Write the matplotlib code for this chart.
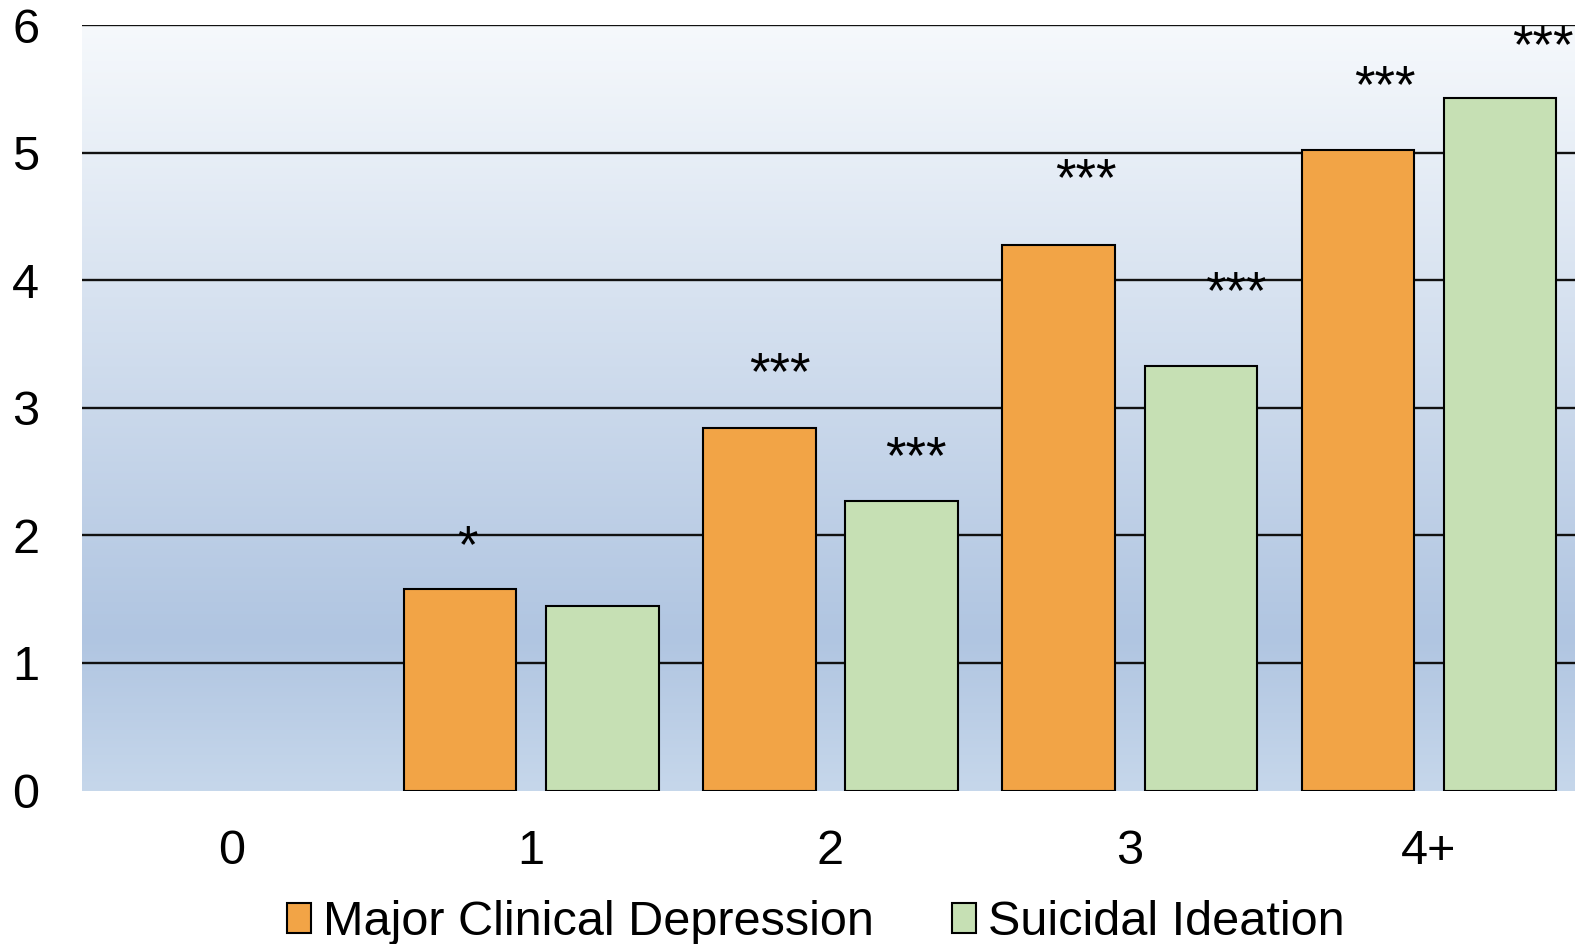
import numpy as np
import matplotlib
matplotlib.use('Agg')
import matplotlib.pyplot as plt
from matplotlib.colors import LinearSegmentedColormap
from matplotlib.patches import Patch

plt.rcParams['font.family'] = ['Liberation Sans', 'DejaVu Sans']

# number of events (x categories); group "0" is the reference with no bars
categories = ['0', '1', '2', '3', '4+']
depression = [None, 1.58, 2.84, 4.28, 5.02]
ideation = [None, 1.45, 2.27, 3.33, 5.43]
depression_stars = [None, '*', '***', '***', '***']
ideation_stars = [None, None, '***', '***', '***']

# star label placement (x offset from category centre, y in data units)
dep_star_dx = [0, -0.215, -0.168, -0.148, -0.148]
dep_star_y = [0, 1.90, 3.26, 4.78, 5.51]
ide_star_dx = [0, 0, 0.285, 0.356, 0.379]
ide_star_y = [0, 0, 2.60, 3.89, 5.82]

orange = '#F2A446'
green = '#C6E0B4'

fig = plt.figure(figsize=(15.75, 9.44), dpi=100)
ax = fig.add_axes([0.0523, 0.1626, 0.950, 0.8108])

x = np.arange(len(categories))
width = 0.376
offset = 0.238
xmin, xmax = -0.5, len(categories) - 0.5

# vertical background gradient
grad = LinearSegmentedColormap.from_list(
    'bg', [(0.0, '#C6D7EB'), (0.2, '#B0C5E1'), (1.0, '#F6F9FC')])
ax.imshow(np.linspace(0, 1, 256).reshape(-1, 1), cmap=grad, origin='lower',
          extent=[xmin, xmax, 0, 6], aspect='auto', zorder=0)

for yv in range(1, 7):
    ax.axhline(yv, color='#111111', lw=1.7, zorder=1)

for i in range(len(categories)):
    if depression[i] is not None:
        ax.bar(x[i] - offset, depression[i], width, color=orange,
               edgecolor='black', linewidth=1.5, zorder=2)
    if ideation[i] is not None:
        ax.bar(x[i] + offset, ideation[i], width, color=green,
               edgecolor='black', linewidth=1.5, zorder=2)
    if depression_stars[i]:
        ax.text(x[i] + dep_star_dx[i], dep_star_y[i], depression_stars[i],
                ha='center', va='center', fontsize=38, zorder=3)
    if ideation_stars[i]:
        ax.text(x[i] + ide_star_dx[i], ide_star_y[i], ideation_stars[i],
                ha='center', va='center', fontsize=38, zorder=3)

ax.set_xlim(xmin, xmax)
ax.set_ylim(0, 6)
ax.set_xticks(x)
ax.set_xticklabels(categories)
ax.set_yticks(range(0, 7))
ax.tick_params(axis='both', length=0, labelsize=35)
ax.tick_params(axis='y', pad=31)
ax.tick_params(axis='x', pad=28)
for s in ax.spines.values():
    s.set_visible(False)

handles = [Patch(facecolor=orange, edgecolor='black', linewidth=1.5),
           Patch(facecolor=green, edgecolor='black', linewidth=1.5)]
fig.legend(handles, ['Major Clinical Depression', 'Suicidal Ideation'],
           loc='center', bbox_to_anchor=(0.518, 0.0225), ncol=2, frameon=False,
           fontsize=35, handlelength=0.5, handleheight=0.55,
           handletextpad=0.25, columnspacing=1.6)

fig.savefig('out.png', dpi=100)
